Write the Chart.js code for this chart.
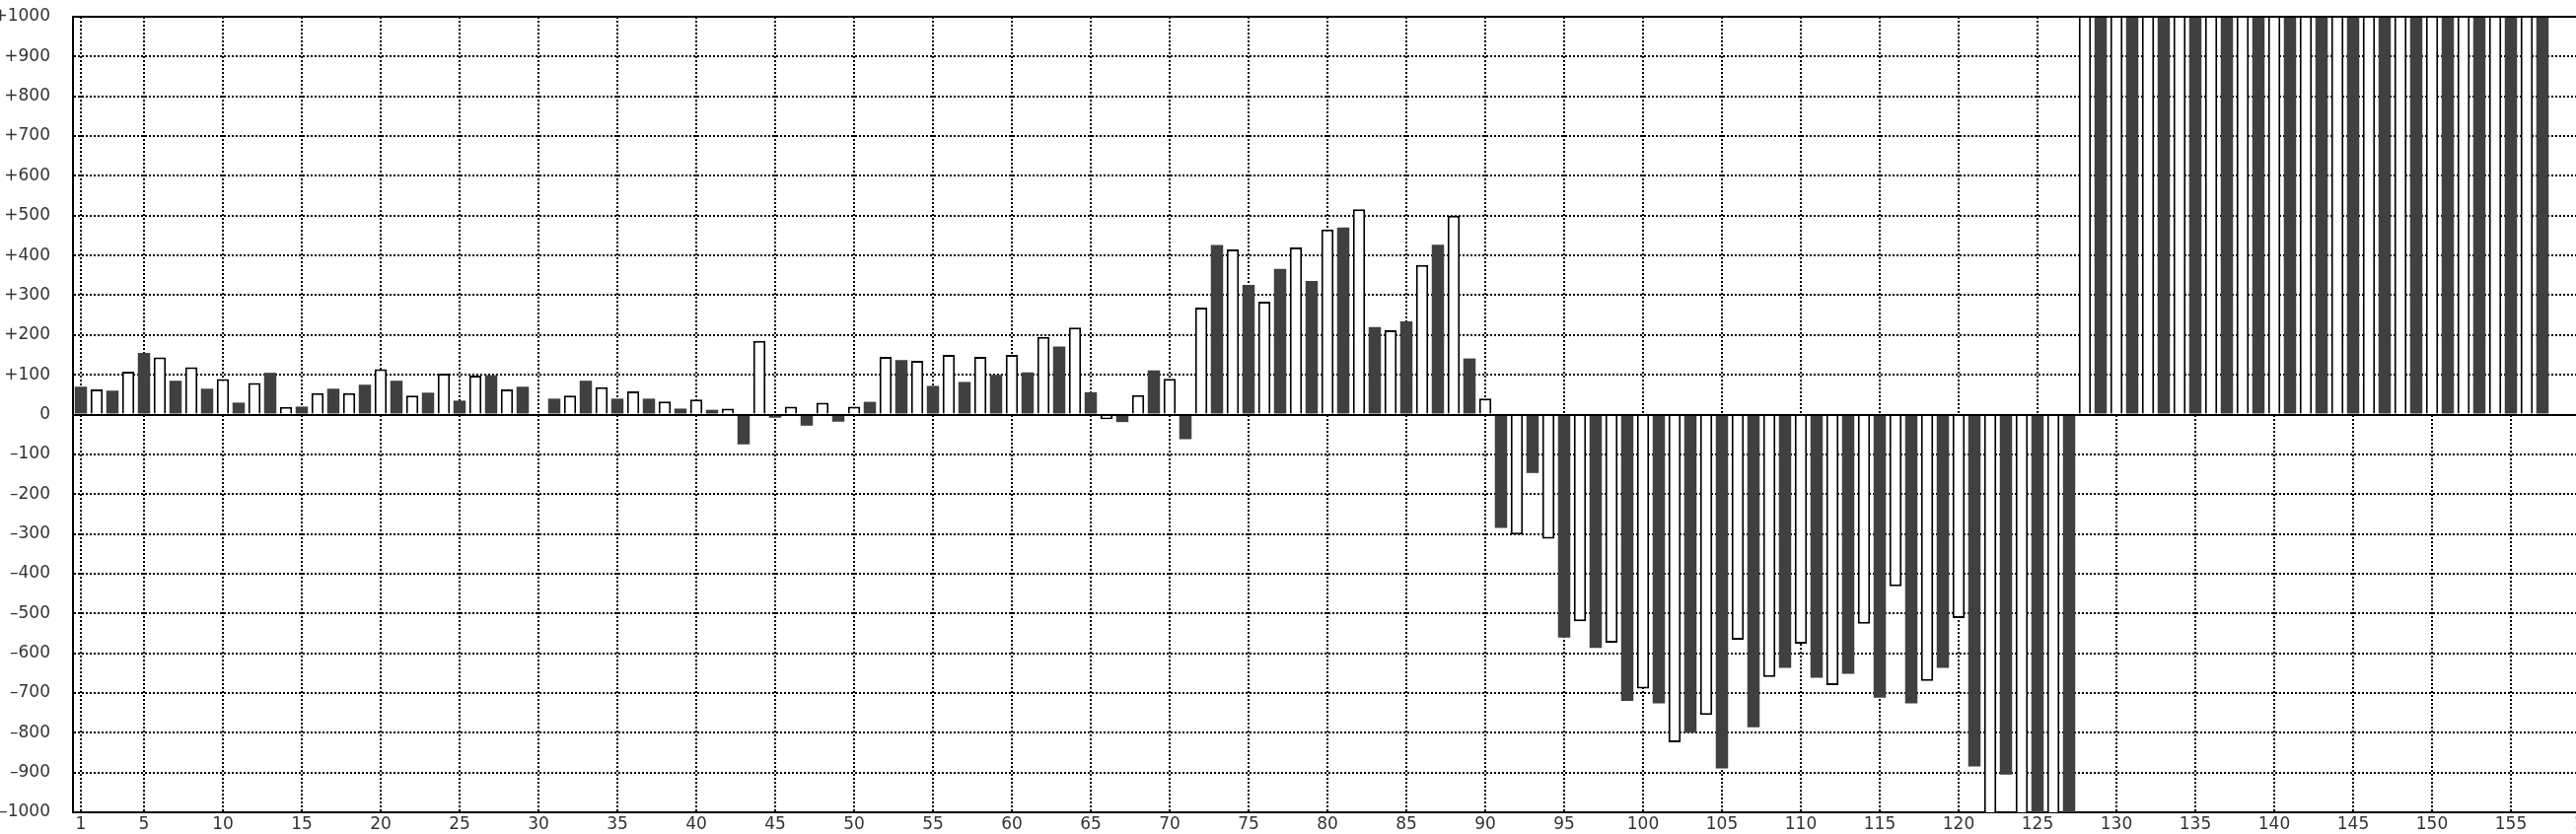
<!DOCTYPE html>
<html>
<head>
<meta charset="utf-8">
<script src="https://cdn.jsdelivr.net/npm/chart.js@4"></script>
<style>
  html, body { margin: 0; padding: 0; background: #fff; overflow: hidden; }
  #wrap { width: 2714px; height: 846px; }
</style>
</head>
<body>
<div id="wrap"><canvas id="dayChart" width="2714" height="846"></canvas></div>
<script>
// categories: day numbers (axis runs past the last day, cut off by the window)
const days = [];
for (let d = 1; d <= 165; d++) days.push(String(d));

// values, day 1..157 (null = no bar)
const valuesA = [70, 63, 60, 108, 155, 144, 85, 119, 65, 89,
  30, 79, 105, 19, 20, 54, 65, 54, 75, 114,
  85, 48, 55, 103, 35, 98, 99, 63, 70, null,
  40, 48, 85, 69, 40, 58, 40, 33, 15, 38];
const valuesB = [12, 15, -75, 185, -8, 20, -28, 30, -18, 20,
  32, 145, 137, 135, 72, 150, 82, 145, 100, 150,
  106, 195, 171, 219, 56, -12, -19, 49, 111, 90,
  -62, 269, 426, 415, 326, 284, 366, 420, 336, 465];
const valuesC = [470, 516, 220, 212, 234, 376, 427, 500, 141, 40,
  -285, -302, -147, -312, -561, -520, -587, -574, -720, -689,
  -726, -824, -800, -755, -890, -566, -786, -660, -637, -576,
  -662, -680, -652, -526, -712, -432, -726, -670, -637, -512];
// the last ones run off the plot (below -1000 / above +1000)
const valuesD = [-885, -1200, -905, -1200, -1200, -1200, -1200,
  1200, 1200, 1200, 1200, 1200, 1200, 1200, 1200, 1200, 1200,
  1200, 1200, 1200, 1200, 1200, 1200, 1200, 1200, 1200, 1200,
  1200, 1200, 1200, 1200, 1200, 1200, 1200, 1200, 1200, 1200];

const values = valuesA.concat(valuesB, valuesC, valuesD);
while (values.length < days.length) values.push(null);

const yMin = -1000, yMax = 1000, yStep = 100;

const DARK = '#404040';
const isDark = i => i % 2 === 0;   // odd days dark, even days white
const isLabeled = i => i === 0 || (i + 1) % 5 === 0;
const tickFont = { family: 'DejaVu Sans', size: 17 };

function fmtY(v) {
  if (v > 0) return '+' + v;
  if (v < 0) return '\u2013' + (-v);
  return '0';
}

// top frame line and solid zero line
const framePlugin = {
  id: 'frame',
  afterDatasetsDraw(chart) {
    const { ctx, chartArea: a, scales: { y } } = chart;
    const y0 = Math.round(y.getPixelForValue(0));
    ctx.save();
    ctx.strokeStyle = '#000';
    ctx.lineWidth = 2;
    ctx.beginPath();
    ctx.moveTo(a.left, Math.round(a.top));
    ctx.lineTo(a.right, Math.round(a.top));
    ctx.moveTo(a.left, y0);
    ctx.lineTo(a.right, y0);
    ctx.stroke();
    ctx.restore();
  }
};

// keep the plot edges where they are in the picture
function noPad(s) {
  s.paddingTop = 0;
  s.paddingBottom = 0;
  s.paddingLeft = 0;
  s.paddingRight = 0;
}

const ctx = document.getElementById('dayChart').getContext('2d');
new Chart(ctx, {
  type: 'bar',
  data: {
    labels: days,
    datasets: [{
      data: values,
      backgroundColor: c => isDark(c.dataIndex) ? DARK : '#fff',
      borderColor: '#000',
      borderWidth: c => isDark(c.dataIndex) ? 0 : 2,
      barPercentage: 0.78,
      categoryPercentage: 1,
      clip: 0
    }]
  },
  options: {
    responsive: false,
    animation: false,
    layout: { padding: { top: 17, right: 0, bottom: 0, left: 0 } },
    plugins: {
      legend: { display: false },
      tooltip: { enabled: false }
    },
    scales: {
      x: {
        offset: true,
        grid: {
          offset: false,
          drawTicks: false,
          lineWidth: 2,
          color: c => isLabeled(c.index) ? '#000' : 'transparent'
        },
        border: { display: true, color: '#000', width: 2, dash: [2, 2] },
        ticks: {
          autoSkip: false,
          maxRotation: 0,
          padding: 2,
          color: '#333',
          font: tickFont,
          callback: (v, i) => isLabeled(i) ? days[i] : ''
        },
        afterFit: s => { s.height = 22; noPad(s); }
      },
      y: {
        min: yMin,
        max: yMax,
        grid: {
          drawTicks: false,
          lineWidth: 2,
          color: c => (c.tick && c.tick.value !== 0 && Math.abs(c.tick.value) !== 1000) ? '#000' : 'transparent'
        },
        border: { display: true, color: '#000', width: 2, dash: [2, 2] },
        ticks: {
          stepSize: yStep,
          padding: 23,
          color: '#333',
          font: tickFont,
          callback: v => fmtY(v)
        },
        afterFit: s => { s.width = 74; noPad(s); }
      }
    }
  },
  plugins: [framePlugin]
});
</script>
</body>
</html>
